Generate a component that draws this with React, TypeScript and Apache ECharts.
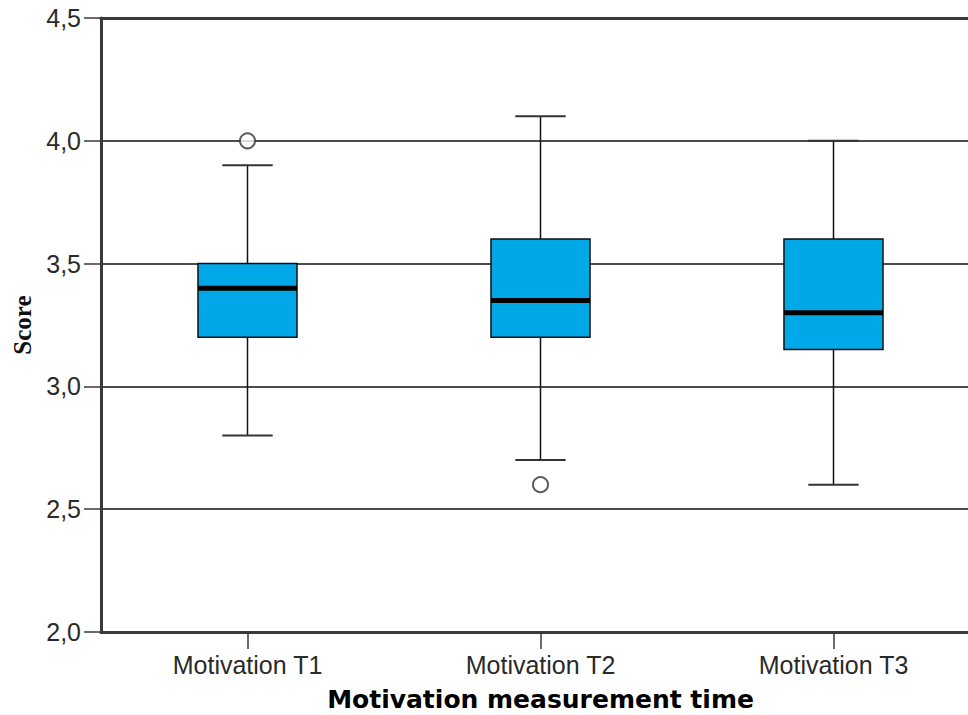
import React, { useEffect, useRef } from "react";
import * as echarts from "echarts";

// Box-plot summaries per measurement time
const categories = ["Motivation T1", "Motivation T2", "Motivation T3"];
const whiskerLow = [2.8, 2.7, 2.6];
const q1 = [3.2, 3.2, 3.15];
const median = [3.4, 3.35, 3.3];
const q3 = [3.5, 3.6, 3.6];
const whiskerHigh = [3.9, 4.1, 4.0];
// Outliers as [category index, score]
const outliers: [number, number][] = [
  [0, 4.0],
  [1, 2.6],
];
const yTicks = [2.0, 2.5, 3.0, 3.5, 4.0, 4.5];

const BOX_FILL = "#00A8E8";
const INK = "#111111";
const AXIS = "#3a3a3a";

export default function App() {
  const ref = useRef<HTMLDivElement>(null);

  useEffect(() => {
    if (!ref.current) return;
    const chart = echarts.init(ref.current, undefined, { renderer: "svg" });

    const boxData = categories.map((_, i) => [
      i,
      whiskerLow[i],
      q1[i],
      median[i],
      q3[i],
      whiskerHigh[i],
    ]);

    const renderBox = (params: any, api: any) => {
      const idx = api.value(0);
      const band = api.size([1, 0])[0];
      const boxW = band * 0.338;
      const capW = band * 0.172;
      const pLow = api.coord([idx, api.value(1)]);
      const pQ1 = api.coord([idx, api.value(2)]);
      const pMed = api.coord([idx, api.value(3)]);
      const pQ3 = api.coord([idx, api.value(4)]);
      const pHigh = api.coord([idx, api.value(5)]);
      const cx = pLow[0];
      const line = { stroke: INK, lineWidth: 1.5 };
      return {
        type: "group",
        children: [
          { type: "line", shape: { x1: cx, y1: pLow[1], x2: cx, y2: pQ1[1] }, style: line },
          { type: "line", shape: { x1: cx, y1: pQ3[1], x2: cx, y2: pHigh[1] }, style: line },
          { type: "line", shape: { x1: cx - capW / 2, y1: pLow[1], x2: cx + capW / 2, y2: pLow[1] }, style: { stroke: "#333", lineWidth: 2 } },
          { type: "line", shape: { x1: cx - capW / 2, y1: pHigh[1], x2: cx + capW / 2, y2: pHigh[1] }, style: { stroke: "#333", lineWidth: 2 } },
          {
            type: "rect",
            shape: { x: cx - boxW / 2, y: pQ3[1], width: boxW, height: pQ1[1] - pQ3[1] },
            style: { fill: BOX_FILL, stroke: INK, lineWidth: 1.5 },
          },
          {
            type: "line",
            shape: { x1: cx - boxW / 2, y1: pMed[1], x2: cx + boxW / 2, y2: pMed[1] },
            style: { stroke: "#000", lineWidth: 5 },
          },
        ],
      };
    };

    chart.setOption({
      animation: false,
      backgroundColor: "#ffffff",
      grid: {
        left: 101,
        top: 18,
        width: 879,
        height: 614,
        containLabel: false,
        outerBoundsMode: "none",
      },
      xAxis: [
        {
          type: "category",
          data: categories,
          boundaryGap: true,
          name: "Motivation measurement time",
          nameLocation: "middle",
          nameGap: 55,
          nameTextStyle: { fontFamily: "DejaVu Sans", fontWeight: "bold", fontSize: 25, color: "#000" },
          axisLine: { show: true, lineStyle: { color: AXIS, width: 3 } },
          axisTick: { show: true, alignWithLabel: true, length: 17, lineStyle: { color: AXIS, width: 1.5 } },
          axisLabel: { fontFamily: "Liberation Sans", fontSize: 25, color: "#2a2a2a", margin: 20 },
          splitLine: { show: false },
        },
        {
          type: "category",
          data: categories,
          position: "top",
          axisLine: { show: true, lineStyle: { color: AXIS, width: 3 } },
          axisTick: { show: false },
          axisLabel: { show: false },
        },
      ],
      yAxis: {
        type: "value",
        min: 2,
        max: 4.5,
        interval: 0.5,
        name: "Score",
        nameLocation: "middle",
        nameGap: 64,
        nameRotate: 90,
        nameTextStyle: { fontFamily: "Liberation Serif", fontWeight: "bold", fontSize: 25, color: "#111" },
        axisLine: { show: true, lineStyle: { color: AXIS, width: 3 } },
        axisTick: { show: true, length: 17, lineStyle: { color: AXIS, width: 1.5 } },
        axisLabel: {
          fontFamily: "Liberation Sans",
          fontSize: 25,
          color: "#2a2a2a",
          margin: 20,
          formatter: (v: number) => (yTicks.includes(v) ? v.toFixed(1).replace(".", ",") : ""),
        },
        splitLine: { show: true, showMinLine: false, showMaxLine: false, lineStyle: { color: INK, width: 1.6 } },
      },
      series: [
        {
          type: "custom",
          renderItem: renderBox,
          data: boxData,
          encode: { x: 0, y: [1, 2, 3, 4, 5] },
          z: 3,
        },
        {
          type: "scatter",
          data: outliers,
          symbol: "circle",
          symbolSize: 15,
          itemStyle: { color: "#ffffff", borderColor: "#333", borderWidth: 2 },
          z: 4,
        },
      ],
    });

    return () => chart.dispose();
  }, []);

  return (
    <div
      ref={ref}
      style={{ position: "fixed", left: 0, top: 0, width: 968, height: 715, background: "#fff" }}
    />
  );
}
